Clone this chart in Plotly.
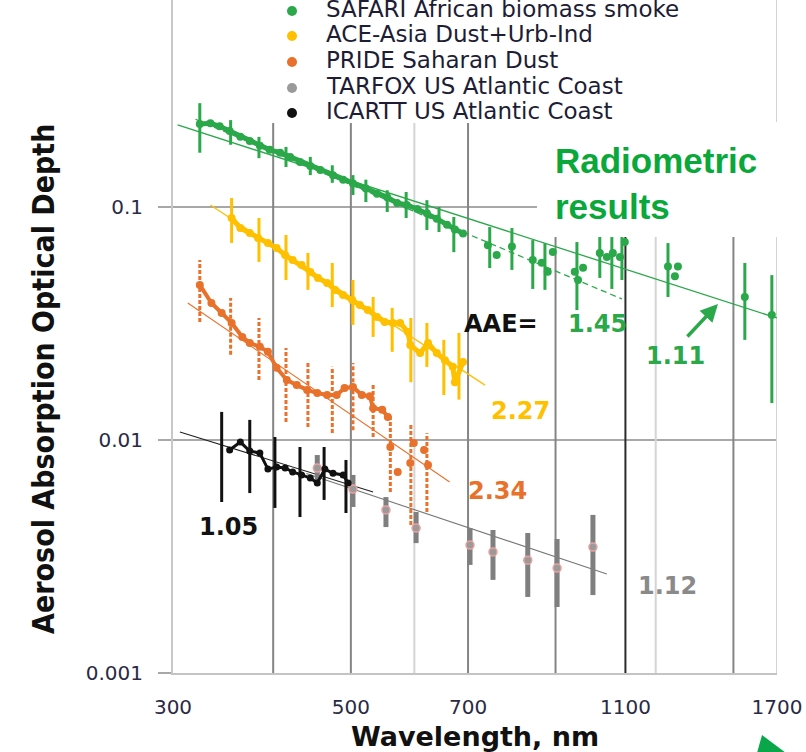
import plotly.graph_objects as go

# ---------------- data ----------------
series_names = ["SAFARI African biomass smoke", "ACE-Asia Dust+Urb-Ind", "PRIDE Saharan Dust",
                "TARFOX US Atlantic Coast", "ICARTT US Atlantic Coast"]

safari_wl = [324, 334, 343, 353, 364, 374, 385, 396, 408, 420, 432, 445, 458, 475, 489, 503, 522, 539,
             555, 571, 587, 605, 622, 640, 659, 674, 690]
safari_aaod = [0.227, 0.229, 0.222, 0.212, 0.200, 0.192, 0.183, 0.176, 0.171, 0.164, 0.156, 0.150, 0.144,
               0.137, 0.131, 0.126, 0.120, 0.114, 0.110, 0.104, 0.102, 0.098, 0.094, 0.089, 0.084, 0.080, 0.077]
safari_sparse_wl = [741, 760, 794, 843, 865, 880, 893, 951, 960, 974, 1022, 1043, 1061, 1083, 1098,
                    1243, 1268, 1279, 1550, 1675]
safari_sparse_aaod = [0.0686, 0.0623, 0.0676, 0.0593, 0.0576, 0.0527, 0.0641, 0.0527, 0.0486, 0.0549,
                      0.0634, 0.0610, 0.0634, 0.0610, 0.0707, 0.0555, 0.0505, 0.0555, 0.0411, 0.0344]
safari_bar_wl = [324, 354, 384, 415, 445, 474, 503, 522, 555, 586, 622, 644, 672, 745, 794, 843, 873, 957,
                 1022, 1058, 1089, 1243, 1550, 1675]
safari_bar_lo = [0.171, 0.185, 0.162, 0.1485, 0.137, 0.127, 0.1126, 0.105, 0.0952, 0.0897, 0.0796, 0.0781,
                 0.0640, 0.0547, 0.0537, 0.0445, 0.0441, 0.0361, 0.0496, 0.0445, 0.0486, 0.0411, 0.0269, 0.0144]
safari_bar_hi = [0.279, 0.236, 0.200, 0.181, 0.164, 0.151, 0.137, 0.131, 0.118, 0.116, 0.107, 0.100,
                 0.0906, 0.0820, 0.0812, 0.0721, 0.0700, 0.0707, 0.0743, 0.0743, 0.0743, 0.0700, 0.0575, 0.0510]

ace_wl = [355, 364, 374, 383, 394, 404, 414, 423, 434, 445, 455, 467, 478, 489, 502, 513, 525, 539, 551,
          564, 576, 589, 593, 610, 624, 640, 655, 670, 674, 690]
ace_aaod = [0.0897, 0.0812, 0.0773, 0.0736, 0.0701, 0.0667, 0.0622, 0.0593, 0.0564, 0.0526, 0.0496, 0.0472,
            0.0440, 0.0419, 0.0399, 0.0380, 0.0361, 0.0337, 0.0321, 0.0318, 0.0318, 0.0291, 0.0256, 0.0236,
            0.0261, 0.0236, 0.0220, 0.0206, 0.0177, 0.0216]
ace_bar_wl = [355, 384, 415, 442, 474, 503, 533, 563, 594, 622, 653, 682]
ace_bar_lo = [0.0701, 0.0581, 0.0486, 0.0441, 0.0372, 0.0312, 0.0277, 0.0239, 0.0177, 0.0206, 0.0156, 0.0149]
ace_bar_hi = [0.1093, 0.0897, 0.0758, 0.0635, 0.0575, 0.0486, 0.0411, 0.0369, 0.0334, 0.0318, 0.0269, 0.0288]

pride_wl = [324, 335, 345, 355, 366, 374, 385, 394, 404, 416, 428, 441, 454, 467, 480, 491, 503, 516, 528,
            533, 547, 556]
pride_aaod = [0.0463, 0.0387, 0.0351, 0.0318, 0.0277, 0.0261, 0.0251, 0.0239, 0.0204, 0.0181, 0.0172, 0.0164,
              0.0159, 0.0156, 0.0156, 0.0167, 0.0169, 0.0156, 0.0154, 0.0137, 0.0135, 0.01255]
pride_tail_wl = [560, 572, 593, 599, 617, 624]
pride_tail_aaod = [0.00933, 0.00729, 0.00797, 0.00971, 0.00906, 0.00781]
pride_bar_wl = [324, 354, 384, 415, 442, 474, 503, 533, 560, 594, 622]
pride_bar_lo = [0.0321, 0.0232, 0.0181, 0.01195, 0.01137, 0.01072, 0.0110, 0.0103, 0.00598, 0.00432, 0.00491]
pride_bar_hi = [0.0593, 0.0407, 0.0334, 0.0248, 0.0216, 0.0206, 0.0214, 0.0172, 0.0128, 0.0116, 0.0107]

tarfox_wl = [454, 503, 553, 603, 704, 752, 831, 904, 1002]
tarfox_aaod = [0.00758, 0.00616, 0.00501, 0.00419, 0.00354, 0.00331, 0.00305, 0.00282, 0.00347]
tarfox_lo = [0.00641, 0.00516, 0.00423, 0.00361, 0.00291, 0.00251, 0.00212, 0.00192, 0.00216]
tarfox_hi = [0.00862, 0.00708, 0.00569, 0.00491, 0.00419, 0.00411, 0.00399, 0.00376, 0.00477]

icartt_wl = [353, 364, 374, 385, 394, 404, 414, 423, 434, 445, 454, 464, 475, 489, 496]
icartt_aaod = [0.00906, 0.0098, 0.00897, 0.00879, 0.0075, 0.00766, 0.00758, 0.00729, 0.00708, 0.00687,
               0.00654, 0.0075, 0.0072, 0.00708, 0.00654]
icartt_bar_wl = [345, 374, 402, 432, 463, 493]
icartt_bar_lo = [0.00542, 0.00592, 0.00511, 0.00467, 0.00553, 0.00486]
icartt_bar_hi = [0.0132, 0.0122, 0.0103, 0.00933, 0.00933, 0.00821]

# power-law fits (end points)
fit_safari_111_wl, fit_safari_111 = [304, 1699], [0.225, 0.0334]
fit_safari_145_wl, fit_safari_145 = [320, 1089], [0.238, 0.0403]
fit_ace_wl, fit_ace = [334, 735], [0.102, 0.0172]
fit_pride_wl, fit_pride = [313, 664], [0.0387, 0.0066]
fit_icartt_wl, fit_icartt = [306, 533], [0.01082, 0.00598]
fit_tarfox_wl, fit_tarfox = [440, 1043], [0.00718, 0.00266]

aae_labels = ["1.45", "1.11", "2.27", "2.34", "1.12", "1.05"]

x_tick_vals = [300, 500, 700, 1100, 1700]
y_tick_vals = [0.001, 0.01, 0.1]
y_tick_text = ["0.001", "0.01", "0.1"]

grid_light = [600, 1200, 1700]
grid_dark = [400, 500, 700, 900, 1500]
grid_black = [1100]

# ---------------- style ----------------
GREEN = "#2aa84a"
YELLOW = "#ffc000"
ORANGE = "#e8712b"
GRAY = "#8a8a8a"
BLACK = "#111111"
TXT = "#1d1d35"

# plot-area geometry used for placing layout items (paper coords)
L, R, T, B = 173, 777, 0, 673


def px(x):
    return (x - L) / (R - L)


def py(y):
    return (B - y) / (B - T)


def vlines(wls):
    xs, ys = [], []
    for w in wls:
        xs += [w, w, None]
        ys += [0.001, 1.0, None]
    return xs, ys


def bars(wls, lo, hi):
    xs, ys = [], []
    for w, a, b in zip(wls, lo, hi):
        xs += [w, w, None]
        ys += [a, b, None]
    return xs, ys


fig = go.Figure()

for wls, col, wd in [(grid_light, "#d4d4d4", 2), (grid_dark, "#858585", 2), (grid_black, "#2a2a2a", 2)]:
    gx, gy = vlines(wls)
    fig.add_trace(go.Scatter(x=gx, y=gy, mode="lines", line=dict(color=col, width=wd),
                             hoverinfo="skip", showlegend=False))

# fit lines
fig.add_trace(go.Scatter(x=fit_safari_111_wl, y=fit_safari_111, mode="lines",
                         line=dict(color=GREEN, width=1.3), hoverinfo="skip"))
fig.add_trace(go.Scatter(x=fit_safari_145_wl, y=fit_safari_145, mode="lines",
                         line=dict(color=GREEN, width=1.3, dash="6px,4px"), hoverinfo="skip"))
fig.add_trace(go.Scatter(x=fit_ace_wl, y=fit_ace, mode="lines", line=dict(color=YELLOW, width=1.3),
                         hoverinfo="skip"))
fig.add_trace(go.Scatter(x=fit_pride_wl, y=fit_pride, mode="lines", line=dict(color=ORANGE, width=1.1),
                         hoverinfo="skip"))
fig.add_trace(go.Scatter(x=fit_tarfox_wl, y=fit_tarfox, mode="lines", line=dict(color="#777777", width=1.1),
                         hoverinfo="skip"))
fig.add_trace(go.Scatter(x=fit_icartt_wl, y=fit_icartt, mode="lines", line=dict(color="#222222", width=1.1),
                         hoverinfo="skip"))

# error bars
for wls, lo, hi, col, wd, dash in [
    (safari_bar_wl, safari_bar_lo, safari_bar_hi, GREEN, 3, "solid"),
    (ace_bar_wl, ace_bar_lo, ace_bar_hi, YELLOW, 3, "solid"),
    (pride_bar_wl, pride_bar_lo, pride_bar_hi, ORANGE, 3, "4px,2px"),
    (tarfox_wl, tarfox_lo, tarfox_hi, "#7f7f7f", 5, "solid"),
    (icartt_bar_wl, icartt_bar_lo, icartt_bar_hi, BLACK, 3, "solid"),
]:
    bx, by = bars(wls, lo, hi)
    fig.add_trace(go.Scatter(x=bx, y=by, mode="lines", line=dict(color=col, width=wd, dash=dash),
                             hoverinfo="skip", showlegend=False))

# data points
fig.add_trace(go.Scatter(x=safari_wl, y=safari_aaod, mode="lines+markers", name=series_names[0],
                         line=dict(color=GREEN, width=5), marker=dict(color=GREEN, size=8)))
fig.add_trace(go.Scatter(x=safari_sparse_wl, y=safari_sparse_aaod, mode="markers", name=series_names[0],
                         marker=dict(color=GREEN, size=8)))
fig.add_trace(go.Scatter(x=ace_wl, y=ace_aaod, mode="lines+markers", name=series_names[1],
                         line=dict(color=YELLOW, width=5), marker=dict(color=YELLOW, size=8)))
fig.add_trace(go.Scatter(x=pride_wl, y=pride_aaod, mode="lines+markers", name=series_names[2],
                         line=dict(color=ORANGE, width=4), marker=dict(color=ORANGE, size=8)))
fig.add_trace(go.Scatter(x=pride_tail_wl, y=pride_tail_aaod, mode="markers", name=series_names[2],
                         marker=dict(color=ORANGE, size=8)))
fig.add_trace(go.Scatter(x=tarfox_wl, y=tarfox_aaod, mode="markers", name=series_names[3],
                         marker=dict(color="#9a9a9a", size=8, line=dict(color="#eaa0a0", width=1.5))))
fig.add_trace(go.Scatter(x=icartt_wl, y=icartt_aaod, mode="lines+markers", name=series_names[4],
                         line=dict(color=BLACK, width=3), marker=dict(color=BLACK, size=7)))

# ---------------- layout items ----------------
shapes = [
    # white box behind legend
    dict(type="rect", xref="paper", yref="paper", x0=px(255), x1=px(760), y0=py(123), y1=1.02,
         fillcolor="white", line=dict(width=0), layer="above"),
    # white box behind "Radiometric results"
    dict(type="rect", xref="paper", yref="paper", x0=px(537), x1=px(792), y0=py(237), y1=py(122),
         fillcolor="white", line=dict(width=0), layer="above"),
    # partial green arrow head at bottom right
    dict(type="path", xref="paper", yref="paper",
         path=f"M {px(762)} {py(735)} L {px(757)} {py(753)} L {px(786)} {py(753)} Z",
         fillcolor="#0aa64a", line=dict(width=0), layer="above"),
]

legend_colors = [GREEN, YELLOW, ORANGE, "#9a9a9a", BLACK]
legend_rows = [9, 34, 60, 86, 111]
annotations = []
for name, col, row in zip(series_names, legend_colors, legend_rows):
    shapes.append(dict(type="circle", xref="paper", yref="paper", xsizemode="pixel", ysizemode="pixel",
                       xanchor=px(292), yanchor=py(row + 2), x0=-5, x1=5, y0=-5, y1=5,
                       fillcolor=col, line=dict(width=0), layer="above"))
    annotations.append(dict(text=name, xref="paper", yref="paper", x=px(324), y=py(row), xanchor="left",
                            yanchor="middle", showarrow=False,
                            font=dict(family="DejaVu Sans", size=23, color=TXT)))

bold = dict(family="DejaVu Sans", size=24, weight="bold")
label_specs = [
    ("AAE=", 501, 324, BLACK),
    (aae_labels[0], 597, 324, GREEN),
    (aae_labels[1], 675, 356, GREEN),
    (aae_labels[2], 520, 411, YELLOW),
    (aae_labels[3], 497, 491, ORANGE),
    (aae_labels[4], 667, 586, GRAY),
    (aae_labels[5], 228, 527, BLACK),
]
for t, x, y, c in label_specs:
    annotations.append(dict(text=t, xref="paper", yref="paper", x=px(x), y=py(y), xanchor="center",
                            yanchor="middle", showarrow=False, font=dict(**bold, color=c)))

annotations.append(dict(text="Radiometric<br>results", xref="paper", yref="paper", x=px(553), y=py(183),
                        xanchor="left", yanchor="middle", align="left", showarrow=False,
                        font=dict(family="Liberation Sans, Arial", size=35, weight="bold", color="#0aa83a")))

# arrow pointing at the 1.11 fit line
annotations.append(dict(text="", xref="paper", yref="paper", x=px(718), y=py(304), ax=-32, ay=34,
                        showarrow=True, arrowhead=2, arrowsize=1, arrowwidth=3.5, arrowcolor=GREEN))

# y-axis title
annotations.append(dict(text="Aerosol Absorption Optical Depth", xref="paper", yref="paper",
                        x=px(43), y=py(379), textangle=-90, showarrow=False, xanchor="center",
                        yanchor="middle",
                        font=dict(family="Liberation Sans Narrow, DejaVu Sans Condensed, DejaVu Sans",
                                  size=30, weight="bold", color=BLACK)))

fig.update_layout(
    width=806, height=752,
    margin=dict(l=L, r=806 - R, t=T, b=752 - B),
    paper_bgcolor="white", plot_bgcolor="white",
    showlegend=False,
    shapes=shapes, annotations=annotations,
    xaxis=dict(type="log", range=[2.47712, 3.23045], tickvals=x_tick_vals,
               ticktext=[str(v) for v in x_tick_vals], showgrid=False, zeroline=False,
               ticks="", showline=True, linecolor="#c4c4c4", linewidth=2, ticklabelstandoff=15,
               tickfont=dict(family="DejaVu Sans", size=20, color="#2a2a45"),
               title=dict(text="Wavelength, nm", standoff=10,
                          font=dict(family="DejaVu Sans", size=27, weight="bold", color=BLACK))),
    yaxis=dict(type="log", range=[-3, -0.1116], tickvals=y_tick_vals, ticktext=y_tick_text,
               showgrid=True, gridcolor="#a8a8a8", gridwidth=1.5, zeroline=False,
               ticks="outside", ticklen=13, tickcolor="#a8a8a8", tickwidth=1.5,
               showline=True, linecolor="#c8c8c8", linewidth=2, ticklabelstandoff=11,
               tickfont=dict(family="DejaVu Sans", size=20, color="#2a2a45")),
)

fig.write_html("out.html")
